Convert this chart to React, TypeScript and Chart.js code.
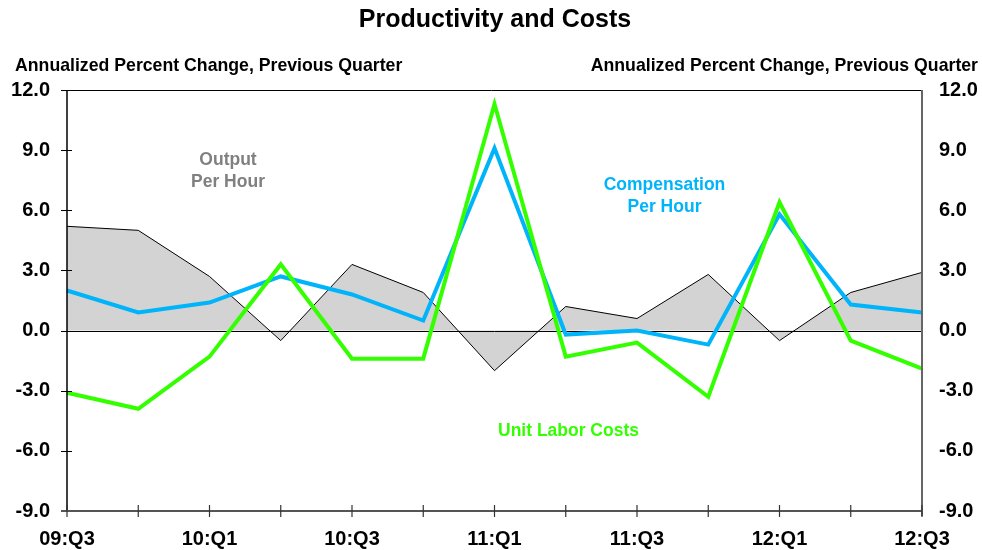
import { useEffect, useRef } from "react";
import { Chart, registerables } from "chart.js";

Chart.register(...registerables);

const quarters = ["09:Q3", "09:Q4", "10:Q1", "10:Q2", "10:Q3", "10:Q4", "11:Q1", "11:Q2", "11:Q3", "11:Q4", "12:Q1", "12:Q2", "12:Q3"];
const outputPerHour = [5.2, 5.0, 2.7, -0.5, 3.3, 1.9, -2.0, 1.2, 0.6, 2.8, -0.5, 1.9, 2.9];
const compensationPerHour = [2.0, 0.9, 1.4, 2.7, 1.8, 0.5, 9.1, -0.2, 0.0, -0.7, 5.8, 1.3, 0.9];
const unitLaborCosts = [-3.1, -3.9, -1.3, 3.3, -1.4, -1.4, 11.3, -1.3, -0.6, -3.3, 6.4, -0.5, -1.9];
const yMin = -9;
const yMax = 12;
const yStep = 3;

const TITLE = "Productivity and Costs";
const AXIS_TITLE = "Annualized Percent Change, Previous Quarter";
const FONT = "'Liberation Sans', Arial, Helvetica, sans-serif";

const GREEN = "#33FF00";
const BLUE = "#00B4FA";
const GRAY_TEXT = "#808080";

const decorPlugin = {
  id: "decor",
  afterDatasetDraw(chart: any, args: any) {
    // zero line drawn right after the shaded area
    if (args.index !== 2) return;
    const { ctx, chartArea } = chart;
    const y = chart.scales.y.getPixelForValue(0);
    ctx.save();
    ctx.strokeStyle = "#000";
    ctx.lineWidth = 1;
    ctx.beginPath();
    ctx.moveTo(chartArea.left, Math.round(y) + 0.5);
    ctx.lineTo(chartArea.right, Math.round(y) + 0.5);
    ctx.stroke();
    ctx.restore();
  },
  afterDraw(chart: any) {
    const { ctx, chartArea } = chart;
    const { left, right, top, bottom } = chartArea;
    const yS = chart.scales.y;
    const xS = chart.scales.x;
    ctx.save();
    // top border
    ctx.strokeStyle = "#000";
    ctx.lineWidth = 1;
    ctx.beginPath();
    ctx.moveTo(left - 6, top + 0.5);
    ctx.lineTo(right, top + 0.5);
    ctx.stroke();
    // left axis
    ctx.lineWidth = 1.5;
    ctx.beginPath();
    ctx.moveTo(left, top);
    ctx.lineTo(left, bottom);
    ctx.stroke();
    // left ticks crossing
    ctx.lineWidth = 1;
    yS.ticks.forEach((t: any) => {
      const py = Math.round(yS.getPixelForValue(t.value)) + 0.5;
      ctx.beginPath();
      ctx.moveTo(left - 6, py);
      ctx.lineTo(left + 5, py);
      ctx.stroke();
    });
    // right axis
    ctx.strokeStyle = "#666";
    ctx.lineWidth = 2;
    ctx.beginPath();
    ctx.moveTo(right, top);
    ctx.lineTo(right, bottom + 5);
    ctx.stroke();
    // bottom axis
    ctx.strokeStyle = "#555";
    ctx.lineWidth = 2;
    ctx.beginPath();
    ctx.moveTo(left - 6, bottom);
    ctx.lineTo(right, bottom);
    ctx.stroke();
    // x ticks crossing
    ctx.strokeStyle = "#333";
    ctx.lineWidth = 1.2;
    for (let i = 0; i < quarters.length; i++) {
      const px = xS.getPixelForTick(i);
      ctx.beginPath();
      ctx.moveTo(px, bottom - 6);
      ctx.lineTo(px, bottom + 6);
      ctx.stroke();
    }
    // title
    ctx.fillStyle = "#000";
    ctx.textBaseline = "middle";
    ctx.textAlign = "center";
    ctx.font = `bold 25px ${FONT}`;
    ctx.fillText(TITLE, 495, 20);
    // axis titles
    ctx.font = `bold 17.7px ${FONT}`;
    ctx.textAlign = "left";
    ctx.fillText(AXIS_TITLE, 15, 66);
    ctx.textAlign = "right";
    ctx.fillText(AXIS_TITLE, 978, 66);
    // annotations
    ctx.textAlign = "center";
    ctx.font = `bold 17.5px ${FONT}`;
    ctx.fillStyle = GRAY_TEXT;
    ctx.fillText("Output", 228, 160);
    ctx.fillText("Per Hour", 228, 182.5);
    ctx.fillStyle = BLUE;
    ctx.fillText("Compensation", 664.5, 185);
    ctx.fillText("Per Hour", 664.5, 207.5);
    ctx.fillStyle = GREEN;
    ctx.fillText("Unit Labor Costs", 568.5, 431);
    ctx.restore();
  },
};

export default function App() {
  const ref = useRef<HTMLCanvasElement | null>(null);
  useEffect(() => {
    if (!ref.current) return;
    const tickFont = { family: FONT, size: 20, weight: "bold" as const };
    const yAxis = (position: "left" | "right", width: number) => ({
      type: "linear" as const,
      position,
      min: yMin,
      max: yMax,
      ticks: {
        stepSize: yStep,
        padding: 17,
        color: "#000",
        font: tickFont,
        callback: (v: any) => Number(v).toFixed(1),
      },
      grid: { drawOnChartArea: false, drawTicks: false },
      border: { display: false },
      afterFit: (s: any) => {
        s.width = width;
      },
    });
    const chart = new Chart(ref.current, {
      type: "line",
      data: {
        labels: quarters,
        datasets: [
          {
            label: "Unit Labor Costs",
            data: unitLaborCosts,
            borderColor: GREEN,
            borderWidth: 4,
            pointRadius: 0,
            tension: 0,
            fill: false,
            yAxisID: "y",
          },
          {
            label: "Compensation Per Hour",
            data: compensationPerHour,
            borderColor: BLUE,
            borderWidth: 4,
            pointRadius: 0,
            tension: 0,
            fill: false,
            yAxisID: "y",
          },
          {
            label: "Output Per Hour",
            data: outputPerHour,
            borderColor: "#000",
            borderWidth: 1,
            backgroundColor: "#D3D3D3",
            pointRadius: 0,
            tension: 0,
            fill: "origin",
            yAxisID: "y",
          },
        ],
      },
      options: {
        animation: false,
        responsive: false,
        layout: { padding: { top: 90, left: 0, right: 0, bottom: 0 } },
        plugins: {
          legend: { display: false },
          title: { display: false },
          tooltip: { enabled: false },
        },
        scales: {
          x: {
            type: "category",
            offset: false,
            ticks: {
              autoSkip: false,
              maxRotation: 0,
              padding: 16,
              color: "#000",
              font: tickFont,
              callback: (_v: any, i: number) => (i % 2 === 0 ? quarters[i] : ""),
            },
            grid: { drawOnChartArea: false, drawTicks: false },
            border: { display: false },
            afterFit: (s: any) => {
              s.height = 39;
            },
          },
          y: yAxis("left", 67),
          y2: yAxis("right", 60),
        },
      },
      plugins: [decorPlugin],
    });
    return () => chart.destroy();
  }, []);
  return (
    <div style={{ position: "absolute", left: 0, top: 0, width: 982, height: 550, background: "#fff" }}>
      <canvas ref={ref} width={982} height={550} />
    </div>
  );
}
